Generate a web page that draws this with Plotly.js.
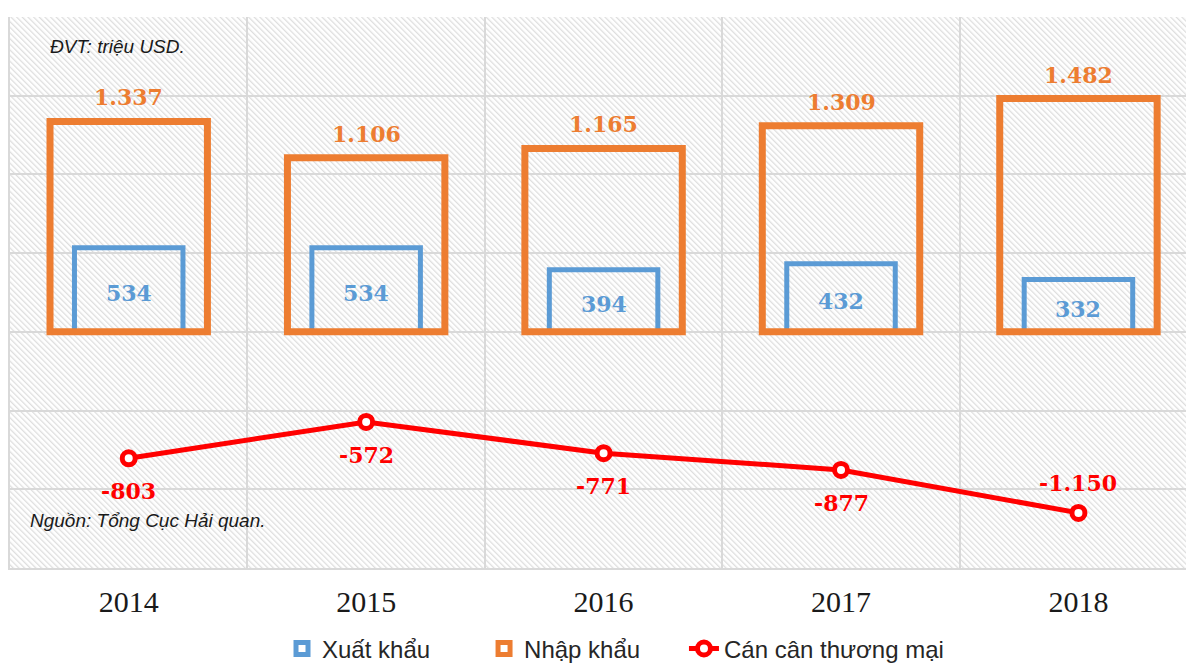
<!DOCTYPE html>
<html>
<head>
<meta charset="utf-8">
<script src="https://cdn.plot.ly/plotly-3.0.1.min.js"></script>
<style>html,body{margin:0;padding:0;background:#fff;}#chart{width:1186px;height:666px;}</style>
</head>
<body>
<div id="chart"></div>
<script>
const years = ['2014', '2015', '2016', '2017', '2018'];
const xuatKhau = [534, 534, 394, 432, 332];
const nhapKhau = [1337, 1106, 1165, 1309, 1482];
const canCan = [-803, -572, -771, -877, -1150];
const canCanLabelSide = ['below', 'below', 'below', 'below', 'above'];

const BLUE = '#5b9bd5', ORANGE = '#ed7d31', RED = '#ff0000';
const xs = years.map((_, i) => i);

function fmt(v) {
  const s = Math.abs(v).toString().replace(/\B(?=(\d{3})+(?!\d))/g, '.');
  return (v < 0 ? '-' : '') + s;
}

const traces = [
  {
    type: 'bar', name: 'Xuất khẩu', x: xs, y: xuatKhau, width: 0.457, legend: 'legend',
    marker: {color: 'rgba(0,0,0,0)', line: {color: BLUE, width: 5}},
    hoverinfo: 'y'
  },
  {
    type: 'bar', name: 'Nhập khẩu', x: xs, y: nhapKhau, width: 0.663, legend: 'legend2',
    marker: {color: 'rgba(0,0,0,0)', line: {color: ORANGE, width: 7}},
    hoverinfo: 'y'
  },
  {
    type: 'scatter', mode: 'lines+markers', name: 'Cán cân thương mại', x: xs, y: canCan, legend: 'legend3',
    line: {color: RED, width: 5},
    marker: {symbol: 'circle', size: 13, color: '#ffffff', line: {color: RED, width: 5}},
    hoverinfo: 'y'
  }
];

const labelFont = (c) => ({family: 'DejaVu Serif', size: 22, color: c, weight: 'bold'});
const annotations = [];
xs.forEach((x, i) => {
  annotations.push({x: x, y: nhapKhau[i], xref: 'x', yref: 'y', text: '<b>' + fmt(nhapKhau[i]) + '</b>',
    showarrow: false, yshift: 24, font: labelFont(ORANGE)});
  annotations.push({x: x, y: xuatKhau[i] / 2, xref: 'x', yref: 'y', text: '<b>' + fmt(xuatKhau[i]) + '</b>',
    showarrow: false, yshift: -3, font: labelFont(BLUE)});
  annotations.push({x: x, y: canCan[i], xref: 'x', yref: 'y', text: '<b>' + fmt(canCan[i]) + '</b>',
    showarrow: false, yshift: canCanLabelSide[i] === 'above' ? 30 : -33, font: labelFont(RED)});
});
annotations.push({xref: 'paper', yref: 'paper', x: 0.032, y: 0.947, xanchor: 'left', yanchor: 'middle',
  text: '<i>ĐVT: triệu USD.</i>', showarrow: false,
  font: {family: 'Liberation Sans', size: 19, color: '#1a1a1a'}});
annotations.push({xref: 'paper', yref: 'paper', x: 0.015, y: 0.087, xanchor: 'left', yanchor: 'middle',
  text: '<i>Nguồn: Tổng Cục Hải quan.</i>', showarrow: false,
  font: {family: 'Liberation Sans', size: 19, color: '#1a1a1a'}});

const W = 1176, H = 551;
const svg = `<svg xmlns="http://www.w3.org/2000/svg" width="${W}" height="${H}" viewBox="0 0 ${W} ${H}" preserveAspectRatio="none">` +
  `<defs><pattern id="p" width="4" height="4" patternUnits="userSpaceOnUse" patternTransform="rotate(-45)">` +
  `<rect x="0" y="0" width="1.3" height="4" fill="#dedede"/></pattern></defs>` +
  `<rect width="${W}" height="${H}" fill="#ffffff"/><rect width="${W}" height="${H}" fill="url(#p)"/></svg>`;
const hatch = 'data:image/svg+xml;base64,' + btoa(svg);

const legendBase = (x) => ({orientation: 'h', x: x, xanchor: 'left', yref: 'paper', y: -0.106, yanchor: 'top',
  font: {family: 'Liberation Sans', size: 24, color: '#262626'}, bgcolor: 'rgba(0,0,0,0)'});

const layout = {
  width: 1186, height: 666,
  margin: {l: 10, r: 0, t: 17, b: 98, autoexpand: false},
  paper_bgcolor: '#ffffff',
  plot_bgcolor: 'rgba(0,0,0,0)',
  barmode: 'overlay',
  showlegend: true,
  legend: legendBase(0.2313),
  legend2: legendBase(0.4031),
  legend3: legendBase(0.5731),
  xaxis: {
    range: [-0.5, 4.453], tickvals: xs, ticktext: years, showgrid: false, zeroline: false,
    ticks: '', tickfont: {family: 'Liberation Serif', size: 30, color: '#1a1a1a'}, ticklabelstandoff: 6,
    showline: true, linecolor: '#d9d9d9', linewidth: 2,
    minor: {tick0: -0.5, dtick: 1, showgrid: true, gridcolor: '#d9d9d9', gridwidth: 2, ticks: ''}
  },
  yaxis: {
    range: [-1500, 2000], dtick: 500, tick0: 0, showticklabels: false, showgrid: true,
    gridcolor: '#d9d9d9', gridwidth: 2, zeroline: false, ticks: '',
    showline: true, linecolor: '#d9d9d9', linewidth: 2
  },
  images: [{source: hatch, xref: 'paper', yref: 'paper', x: 0, y: 1, sizex: 1, sizey: 1,
    xanchor: 'left', yanchor: 'top', sizing: 'stretch', layer: 'below'}],
  annotations: annotations
};

Plotly.newPlot('chart', traces, layout, {displayModeBar: false, staticPlot: true});
</script>
</body>
</html>
